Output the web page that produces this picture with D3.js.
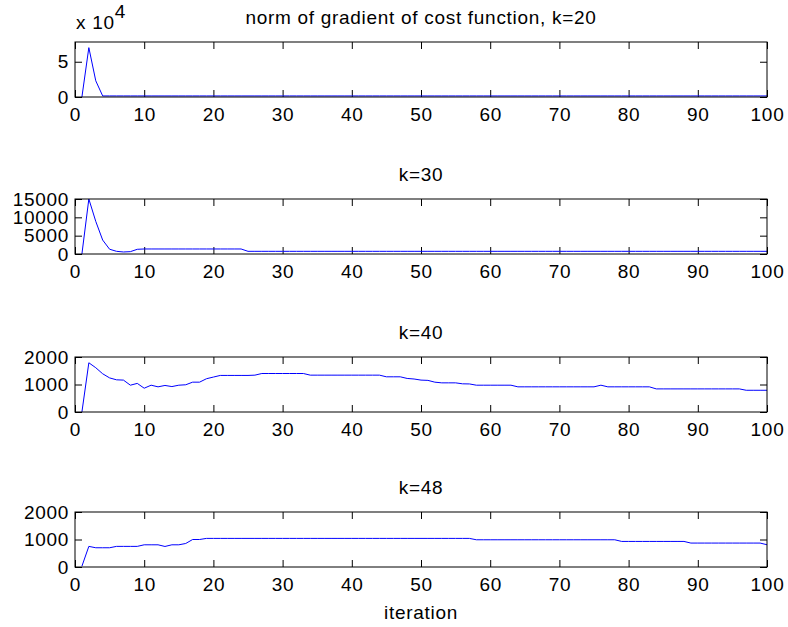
<!DOCTYPE html>
<html>
<head>
<meta charset="utf-8">
<script src="https://cdn.jsdelivr.net/npm/d3@7"></script>
<style>
  body { margin: 0; background: #fff; }
  svg { display: block; }
  text { font-family: "Liberation Sans", Arial, Helvetica, sans-serif; letter-spacing: 0.7px; }
</style>
</head>
<body>
<div id="chart"></div>
<script>
// iteration numbers (x axis)
const iterations = d3.range(1, 101);
const xTicks = [0, 10, 20, 30, 40, 50, 60, 70, 80, 90, 100];

// norm of gradient, one series per k
const gradK20 = [
  0, 70000, 23000, 1500, 1500, 1500, 1500, 1500, 1500, 1500,
  1500, 1500, 1500, 1500, 1500, 1500, 1500, 1500, 1500, 1500,
  1500, 1500, 1500, 1500, 1500, 1500, 1500, 1500, 1500, 1500,
  1500, 1500, 1500, 1500, 1500, 1500, 1500, 1500, 1500, 1500,
  1500, 1500, 1500, 1500, 1500, 1500, 1500, 1500, 1500, 1500,
  1500, 1500, 1500, 1500, 1500, 1500, 1500, 1500, 1500, 1500,
  1500, 1500, 1500, 1500, 1500, 1500, 1500, 1500, 1500, 1500,
  1500, 1500, 1500, 1500, 1500, 1500, 1500, 1500, 1500, 1500,
  1500, 1500, 1500, 1500, 1500, 1500, 1500, 1500, 1500, 1500,
  1500, 1500, 1500, 1500, 1500, 1500, 1500, 1500, 1500, 1500
];
const gradK30 = [
  0, 15000, 8900, 3800, 1300, 730, 550, 640, 1280, 1370,
  1370, 1370, 1370, 1370, 1370, 1370, 1370, 1370, 1370, 1370,
  1370, 1370, 1370, 1370, 730, 730, 730, 730, 730, 730,
  730, 730, 730, 730, 730, 730, 730, 730, 730, 730,
  730, 730, 730, 730, 730, 730, 730, 730, 730, 730,
  730, 730, 730, 730, 730, 730, 730, 730, 730, 730,
  730, 730, 730, 730, 730, 730, 730, 730, 730, 730,
  730, 730, 730, 730, 730, 730, 730, 730, 730, 730,
  730, 730, 730, 730, 730, 730, 730, 730, 730, 730,
  730, 730, 730, 730, 730, 730, 730, 730, 730, 730
];
const gradK40 = [
  0, 1790, 1610, 1390, 1240, 1170, 1160, 975, 1040, 865,
  975, 915, 965, 925, 975, 990, 1085, 1085, 1210, 1270,
  1330, 1330, 1330, 1330, 1330, 1340, 1400, 1400, 1400, 1400,
  1400, 1400, 1400, 1340, 1340, 1340, 1340, 1340, 1340, 1340,
  1340, 1340, 1340, 1340, 1280, 1280, 1280, 1220, 1200, 1160,
  1150, 1085, 1060, 1060, 1060, 1025, 1020, 975, 975, 975,
  975, 975, 975, 915, 915, 915, 915, 915, 915, 915,
  915, 915, 915, 915, 915, 975, 915, 915, 915, 915,
  915, 915, 915, 840, 840, 840, 840, 840, 840, 840,
  840, 840, 840, 840, 840, 840, 790, 790, 790, 790
];
const gradK48 = [
  30, 750, 700, 700, 700, 750, 750, 750, 750, 807,
  807, 807, 747, 807, 807, 855, 1000, 1000, 1040, 1040,
  1040, 1040, 1040, 1040, 1040, 1040, 1040, 1040, 1040, 1040,
  1040, 1040, 1040, 1040, 1040, 1040, 1040, 1040, 1040, 1040,
  1040, 1040, 1040, 1040, 1040, 1040, 1040, 1040, 1040, 1040,
  1040, 1040, 1040, 1040, 1040, 1040, 1040, 990, 990, 990,
  990, 990, 990, 990, 990, 990, 990, 990, 990, 990,
  990, 990, 990, 990, 990, 990, 990, 990, 930, 930,
  930, 930, 930, 930, 930, 930, 930, 930, 870, 870,
  870, 870, 870, 870, 870, 870, 870, 870, 870, 810
];

const titles = ["norm of gradient of cost function, k=20", "k=30", "k=40", "k=48"];
const yMax = [78000, 15000, 2000, 2000];
const yTicks = [[0, 50000], [0, 5000, 10000, 15000], [0, 1000, 2000], [0, 1000, 2000]];
const series = [gradK20, gradK30, gradK40, gradK48];

const W = 788, H = 627;
const left = 75, right = 767;
const tops = [42, 199, 357, 512]; // top of each subplot
const plotH = 55;
const tick = 7;
const fontSize = 19;

const svg = d3.select("#chart").append("svg")
  .attr("width", W)
  .attr("height", H);

const x = d3.scaleLinear().domain([0, 100]).range([left, right]);

series.forEach((vals, s) => {
  const top = tops[s], bottom = top + plotH;
  const y = d3.scaleLinear().domain([0, yMax[s]]).range([bottom, top]);
  const g = svg.append("g");

  // ticks pointing inward, on all four sides
  const xb = g.append("g").attr("transform", `translate(0,${bottom})`)
    .call(d3.axisBottom(x).tickValues(xTicks).tickSize(-tick).tickPadding(0));
  xb.selectAll("text")
    .attr("y", 24).attr("dy", null)
    .attr("font-size", fontSize).attr("fill", "#000");

  g.append("g").attr("transform", `translate(0,${top})`)
    .call(d3.axisTop(x).tickValues(xTicks).tickSize(-tick).tickFormat(""));

  const fmt = s === 0 ? (d => d / 10000) : d3.format("d");
  const yl = g.append("g").attr("transform", `translate(${left},0)`)
    .call(d3.axisLeft(y).tickValues(yTicks[s]).tickSize(-tick).tickPadding(6).tickFormat(fmt));
  yl.selectAll("text").attr("font-size", fontSize).attr("fill", "#000");

  g.append("g").attr("transform", `translate(${right},0)`)
    .call(d3.axisRight(y).tickValues(yTicks[s]).tickSize(-tick).tickFormat(""));

  g.selectAll(".domain").remove();
  g.selectAll(".tick line").attr("stroke", "#000");
  g.selectAll("text").attr("font-family", null);

  // the data line
  g.append("path")
    .datum(vals)
    .attr("fill", "none")
    .attr("stroke", "#0000ff")
    .attr("stroke-width", 1)
    .attr("d", d3.line().x((d, i) => x(iterations[i])).y(d => y(d)));

  // axes box
  g.append("rect")
    .attr("x", left).attr("y", top)
    .attr("width", right - left).attr("height", plotH)
    .attr("fill", "none").attr("stroke", "#000").attr("stroke-width", 1);

  g.append("text")
    .attr("x", (left + right) / 2)
    .attr("y", top - 18)
    .attr("text-anchor", "middle")
    .attr("font-size", fontSize)
    .text(titles[s]);
});

// exponent label of the first subplot
const expo = svg.append("text")
  .attr("x", left + 1)
  .attr("y", 29)
  .attr("font-size", fontSize);
expo.append("tspan").text("x 10");
expo.append("tspan").attr("dy", -11).text("4");

svg.append("text")
  .attr("x", (left + right) / 2)
  .attr("y", 619)
  .attr("text-anchor", "middle")
  .attr("font-size", fontSize)
  .text("iteration");
</script>
</body>
</html>
